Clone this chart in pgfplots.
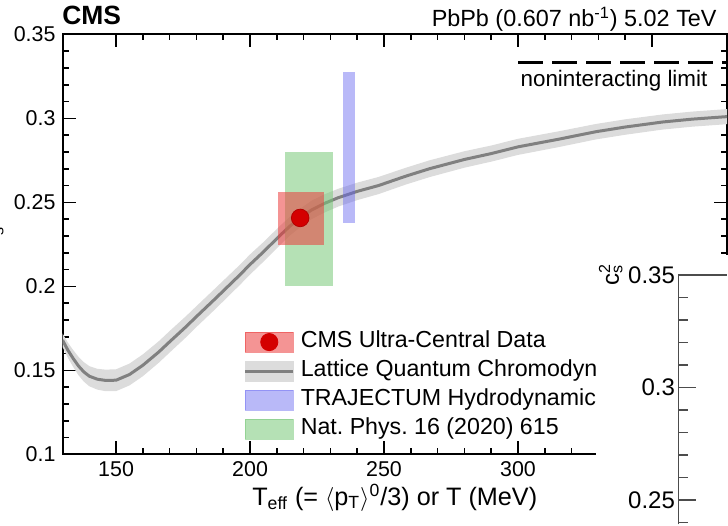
\documentclass[border=0pt]{standalone}
\usepackage{fontspec}
\setmainfont{Liberation Sans}
\usepackage{pgfplots}
\pgfplotsset{compat=1.18}
\usepackage{pgfplotstable}

\pgfplotstableread{
T   c
130 0.1680
132 0.1620
134 0.1570
136 0.1525
138 0.1490
140 0.1465
143 0.1447
146 0.1440
150 0.1441
155 0.1475
160 0.1530
166 0.1610
170 0.1670
176 0.1758
180 0.1820
187 0.1926
196 0.2065
200 0.2130
205 0.2205
211 0.2300
215 0.2360
219 0.2410
223 0.2455
228 0.2495
233 0.2528
240 0.2565
248 0.2600
258 0.2655
267 0.2700
280 0.2755
290 0.2790
300 0.2830
315 0.2875
329 0.2920
340 0.2948
354 0.2978
365 0.2995
378 0.3010
}\lattice

% band outline: upper edge left to right, then lower edge right to left
\pgfplotstableread{
T   y
130 0.1720
132 0.1665
134 0.1620
136 0.1580
138 0.1548
140 0.1525
143 0.1509
146 0.1504
150 0.1506
155 0.1540
160 0.1595
166 0.1674
170 0.1734
176 0.1821
180 0.1882
187 0.1988
196 0.2125
200 0.2190
205 0.2263
211 0.2357
215 0.2416
219 0.2465
223 0.2510
228 0.2549
233 0.2581
240 0.2617
248 0.2651
258 0.2705
267 0.2750
280 0.2804
290 0.2838
300 0.2878
315 0.2922
329 0.2966
340 0.2994
354 0.3023
365 0.3040
378 0.3055
378 0.2965
365 0.2950
354 0.2933
340 0.2902
329 0.2874
315 0.2828
300 0.2782
290 0.2742
280 0.2706
267 0.2650
258 0.2605
248 0.2549
240 0.2513
233 0.2475
228 0.2441
223 0.2400
219 0.2355
215 0.2304
211 0.2243
205 0.2147
200 0.2070
196 0.2005
187 0.1864
180 0.1758
176 0.1695
170 0.1606
166 0.1546
160 0.1465
155 0.1410
150 0.1376
146 0.1376
143 0.1385
140 0.1405
138 0.1432
136 0.1470
134 0.1520
132 0.1575
130 0.1640
}\band

\definecolor{cmsred}{RGB}{235,60,60}
\definecolor{dotred}{RGB}{212,0,0}
\definecolor{bandgray}{RGB}{220,220,220}
\definecolor{linegray}{RGB}{128,128,128}
\definecolor{trajblue}{RGB}{100,100,240}
\definecolor{natgreen}{RGB}{120,200,120}

\begin{document}
\frenchspacing
\begin{tikzpicture}
\path (0,0) rectangle (364pt,262.5pt);
\begin{axis}[
  scale only axis, width=332.25pt, height=210pt,
  at={(31.25pt,35.35pt)}, anchor=south west,
  xmin=130, xmax=378, ymin=0.1, ymax=0.35,
  xtick={150,200,250,300,350},
  ytick={0.1,0.15,0.2,0.25,0.3,0.35},
  minor x tick num=4, minor y tick num=4,
  tick align=inside, major tick length=6.5pt, minor tick length=3pt,
  axis line style={line width=1pt},
  tick style={black, line width=0.8pt},
  tick label style={font=\fontsize{10.7}{12}\selectfont},
  /pgf/number format/assume math mode=true,
  xlabel={T\textsubscript{eff} (= $\langle$p\textsubscript{T}$\rangle$\textsuperscript{0}/3) or T (MeV)},
  xlabel style={at={(axis description cs:0.5,0)}, anchor=base, yshift=-25.35pt, font=\fontsize{12.6}{14}\selectfont},
  legend style={at={(rel axis cs:0.2722,0.2984)}, anchor=north west, draw=none, fill=none,
    inner sep=0pt, row sep=1.8pt, font=\fontsize{11.6}{13}\selectfont,
    nodes={inner sep=1pt, text height=8.3pt, text depth=2.4pt},
    /tikz/every odd column/.append style={column sep=2pt}},
  legend cell align=left,
]
\addplot[draw=none, fill=bandgray, forget plot] table[x=T,y=y]{\band};
\addplot[linegray, line width=1.5pt, forget plot] table[x=T,y=c]{\lattice};
\addplot[draw=none, fill=natgreen, fill opacity=0.55, forget plot] coordinates {(213.1,0.2002) (231.0,0.2002) (231.0,0.2798) (213.1,0.2798)};
\addplot[draw=none, fill=cmsred, fill opacity=0.55, forget plot] coordinates {(210.5,0.2245) (227.7,0.2245) (227.7,0.2561) (210.5,0.2561)};
\addplot[draw=none, fill=trajblue, fill opacity=0.45, forget plot] coordinates {(234.5,0.2379) (239.2,0.2379) (239.2,0.3277) (234.5,0.3277)};
\addplot[only marks, mark=*, mark size=4.4pt, mark options={fill=dotred, draw=dotred!85!black, line width=0.4pt}, forget plot] coordinates {(218.7,0.2407)};
\addplot[black, dash pattern=on 12.5pt off 4.5pt, line width=1.2pt, forget plot] coordinates {(300,0.33333) (378,0.33333)};

\addlegendimage{legend image code/.code={\fill[cmsred,opacity=0.55] (0pt,-5pt) rectangle (24pt,5pt); \fill[dotred] (12pt,0pt) circle (4.3pt);}}
\addlegendentry{CMS Ultra-Central Data}
\addlegendimage{legend image code/.code={\fill[bandgray] (0pt,-5pt) rectangle (24pt,5pt); \draw[linegray, line width=1.5pt] (0pt,0pt) -- (24pt,0pt);}}
\addlegendentry{Lattice Quantum Chromodynamics}
\addlegendimage{legend image code/.code={\fill[trajblue,opacity=0.45] (0pt,-5pt) rectangle (24pt,5pt);}}
\addlegendentry{TRAJECTUM Hydrodynamics}
\addlegendimage{legend image code/.code={\fill[natgreen,opacity=0.55] (0pt,-5pt) rectangle (24pt,5pt);}}
\addlegendentry{Nat. Phys. 16 (2020) 615}
\end{axis}

\node[anchor=base west, font=\bfseries\fontsize{13.2}{15}\selectfont, inner sep=0pt] at (31pt,250pt) {CMS};
\node[anchor=base east, font=\fontsize{11.7}{13}\selectfont, inner sep=0pt] at (358.5pt,249pt) {PbPb (0.607 nb\textsuperscript{-1}) 5.02 TeV};
\node[anchor=base, font=\fontsize{11.2}{13}\selectfont, inner sep=0pt] at (307pt,219pt) {noninteracting limit};
\node[overlay, rotate=90, anchor=south, inner sep=0pt, font=\fontsize{12}{14}\selectfont] at (2pt,144pt) {c\rlap{\textsuperscript{2}}\textsubscript{s}};

\fill[white] (298pt,0pt) rectangle (364pt,135pt);

\begin{axis}[
  scale only axis, width=24.1pt, height=124.7pt,
  at={(339.15pt,125pt)}, anchor=north west,
  axis x line*=top, axis y line*=left,
  xmin=0, xmax=48.2, ymin=0.23916, ymax=0.35,
  xtick=\empty, minor xtick={27.4},
  ytick={0.25,0.3,0.35},
  minor ytick={0.24,0.26,0.27,0.28,0.29,0.31,0.32,0.33,0.34},
  tick align=inside, major tick length=9pt, minor tick length=5pt,
  axis line style={line width=0.6pt, black!70},
  tick style={black!70, line width=0.6pt},
  yticklabel style={font=\fontsize{12}{14}\selectfont, inner sep=1.5pt},
  /pgf/number format/assume math mode=true,
]
\addplot[draw=none] coordinates {(0,0.24) (48,0.34)};
\end{axis}
\node[rotate=90, anchor=south, inner sep=0pt, font=\fontsize{12}{14}\selectfont] at (311.5pt,125pt) {c\rlap{\textsuperscript{2}}\textsubscript{s}};
\end{tikzpicture}
\end{document}
